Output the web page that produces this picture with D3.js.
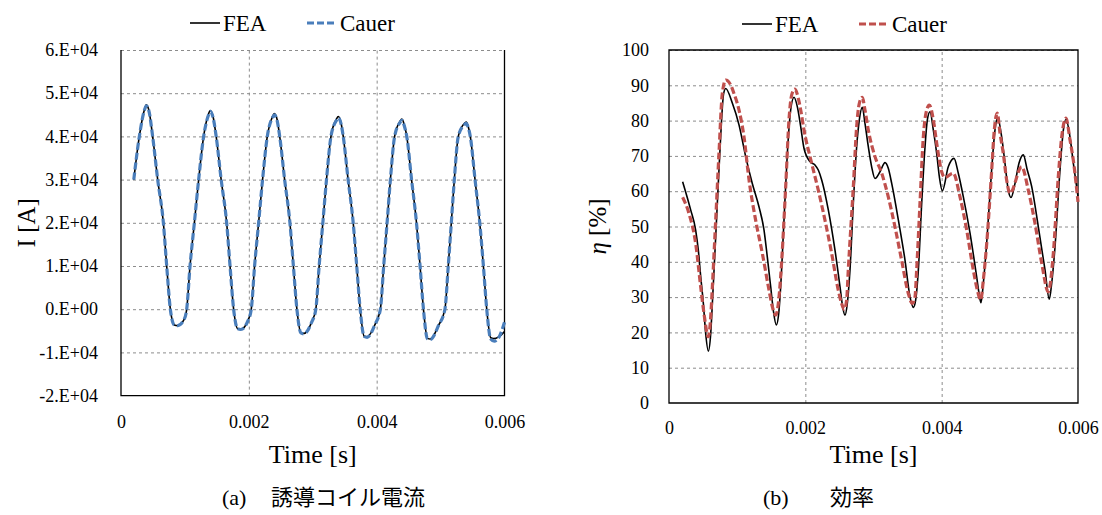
<!DOCTYPE html>
<html>
<head>
<meta charset="utf-8">
<script src="https://cdn.jsdelivr.net/npm/d3@7"></script>
<style>
  body { margin: 0; background: #fff; }
  svg { display: block; }
  svg text { font-family: "Liberation Serif", "Times New Roman", Times, serif; }
</style>
</head>
<body>
<svg id="chart" width="1102" height="515"></svg>
<script>
// ---- data: time [s], value ----
const timeTicks = [0, 0.002, 0.004, 0.006];
const timeTickLabels = ["0", "0.002", "0.004", "0.006"];

const currentTicks = [-20000, -10000, 0, 10000, 20000, 30000, 40000, 50000, 60000];
const currentTickLabels = ["-2.E+04", "-1.E+04", "0.E+00", "1.E+04", "2.E+04", "3.E+04", "4.E+04", "5.E+04", "6.E+04"];

const efficiencyTicks = [0, 10, 20, 30, 40, 50, 60, 70, 80, 90, 100];
const efficiencyTickLabels = ["0", "10", "20", "30", "40", "50", "60", "70", "80", "90", "100"];

const seriesNames = ["FEA", "Cauer"];

// induction coil current [A]
const currentFEA = [
  [0.000200,30000],[0.000287,40000],[0.000365,46100],[0.000396,47300],[0.000440,45800],[0.000495,40000],[0.000574,30000],[0.000663,20000],[0.000715,10000],[0.000772,0],[0.000834,-3650],[0.000887,-3800],[0.000990,-2300],
  [0.001028,0],[0.001080,10000],[0.001148,20000],[0.001215,30000],[0.001293,40000],[0.001365,45000],[0.001397,46000],[0.001440,44600],[0.001489,40000],[0.001567,30000],[0.001653,20000],[0.001706,10000],[0.001762,0],[0.001824,-4500],[0.001875,-4650],[0.001985,-2700],
  [0.002038,0],[0.002090,10000],[0.002153,20000],[0.002215,30000],[0.002289,40000],[0.002368,44500],[0.002400,45300],[0.002442,43900],[0.002483,40000],[0.002560,30000],[0.002643,20000],[0.002697,10000],[0.002752,0],[0.002814,-5450],[0.002864,-5600],[0.002980,-3100],
  [0.003048,0],[0.003100,10000],[0.003158,20000],[0.003215,30000],[0.003285,40000],[0.003370,44000],[0.003400,44600],[0.003443,43100],[0.003477,40000],[0.003553,30000],[0.003633,20000],[0.003688,10000],[0.003742,0],[0.003804,-6250],[0.003852,-6400],[0.003975,-3500],
  [0.004058,0],[0.004110,10000],[0.004163,20000],[0.004215,30000],[0.004281,40000],[0.004365,43500],[0.004395,44000],[0.004435,42500],[0.004471,40000],[0.004546,30000],[0.004623,20000],[0.004679,10000],[0.004732,0],[0.004794,-6750],[0.004840,-6900],[0.004970,-3700],
  [0.005068,0],[0.005120,10000],[0.005168,20000],[0.005215,30000],[0.005277,40000],[0.005370,43000],[0.005400,43300],[0.005430,42400],[0.005465,40000],[0.005539,30000],[0.005613,20000],[0.005670,10000],[0.005722,0],[0.005784,-6600],[0.005830,-6800],[0.005910,-6400],[0.006000,-5200]
];

const currentCauer = [
  [0.000200,30000],[0.000287,40000],[0.000365,46000],[0.000396,47100],[0.000440,45700],[0.000495,40000],[0.000574,30000],[0.000663,20000],[0.000715,10000],[0.000772,0],[0.000834,-3650],[0.000887,-3800],[0.000990,-2300],
  [0.001028,0],[0.001080,10000],[0.001148,20000],[0.001215,30000],[0.001293,40000],[0.001365,44800],[0.001397,45800],[0.001440,44400],[0.001489,40000],[0.001567,30000],[0.001653,20000],[0.001706,10000],[0.001762,0],[0.001824,-4500],[0.001875,-4700],[0.001985,-2700],
  [0.002038,0],[0.002090,10000],[0.002153,20000],[0.002215,30000],[0.002289,40000],[0.002368,44300],[0.002400,45000],[0.002442,43700],[0.002483,40000],[0.002560,30000],[0.002643,20000],[0.002697,10000],[0.002752,0],[0.002814,-5500],[0.002864,-5700],[0.002980,-3100],
  [0.003048,0],[0.003100,10000],[0.003158,20000],[0.003215,30000],[0.003285,40000],[0.003370,43700],[0.003400,44300],[0.003443,42900],[0.003477,40000],[0.003553,30000],[0.003633,20000],[0.003688,10000],[0.003742,0],[0.003804,-6300],[0.003852,-6500],[0.003975,-3500],
  [0.004058,0],[0.004110,10000],[0.004163,20000],[0.004215,30000],[0.004281,40000],[0.004365,43200],[0.004395,43700],[0.004435,42300],[0.004471,40000],[0.004546,30000],[0.004623,20000],[0.004679,10000],[0.004732,0],[0.004794,-6850],[0.004840,-7000],[0.004970,-3700],
  [0.005068,0],[0.005120,10000],[0.005168,20000],[0.005215,30000],[0.005277,40000],[0.005370,42700],[0.005400,43000],[0.005430,42200],[0.005465,40000],[0.005539,30000],[0.005613,20000],[0.005670,10000],[0.005722,0],[0.005784,-6900],[0.005840,-7400],[0.005920,-6300],[0.006000,-3000]
];

// efficiency [%]
const efficiencyFEA = [
  [0.000200,62.7],[0.000318,54.7],[0.000391,49.0],[0.000430,43.3],[0.000465,35.8],[0.000504,28.2],[0.000538,19.7],[0.000577,14.7],[0.000612,19.7],[0.000636,28.2],[0.000685,47.1],[0.000733,66.0],[0.000765,78.0],[0.000800,87.5],[0.000832,89.1],
  [0.000930,84.9],[0.001027,78.8],[0.001125,69.8],[0.001222,62.2],[0.001320,55.6],[0.001394,49.0],[0.001442,41.4],[0.001492,32.9],[0.001530,26.3],[0.001574,22.1],[0.001614,26.3],[0.001638,32.9],[0.001687,51.8],[0.001736,70.7],[0.001785,83.0],[0.001834,86.6],
  [0.001883,83.9],[0.001932,78.3],[0.001981,72.1],[0.002068,68.4],[0.002142,67.4],[0.002190,66.0],[0.002240,63.2],[0.002337,54.7],[0.002435,43.3],[0.002509,32.9],[0.002547,27.3],[0.002582,24.9],[0.002616,28.2],[0.002655,37.7],[0.002704,56.6],[0.002753,72.6],[0.002792,80.2],[0.002836,83.8],
  [0.002875,79.2],[0.002924,72.6],[0.002973,66.9],[0.003022,63.6],[0.003095,65.5],[0.003169,68.1],[0.003217,66.5],[0.003267,62.2],[0.003365,51.8],[0.003462,40.5],[0.003535,30.1],[0.003585,27.1],[0.003619,29.2],[0.003658,37.7],[0.003707,56.6],[0.003756,72.6],[0.003790,80.2],[0.003829,82.5],
  [0.003878,77.3],[0.003927,70.7],[0.003966,64.1],[0.004010,60.1],[0.004097,66.9],[0.004181,69.3],[0.004244,65.1],[0.004318,58.4],[0.004416,48.1],[0.004513,35.8],[0.004548,31.1],[0.004577,28.4],[0.004611,33.9],[0.004660,45.2],[0.004733,66.0],[0.004782,77.3],[0.004821,80.8],
  [0.004880,75.4],[0.004929,67.9],[0.004977,60.3],[0.005017,58.2],[0.005076,62.2],[0.005134,67.9],[0.005198,70.3],[0.005256,66.0],[0.005321,61.3],[0.005418,49.9],[0.005516,37.7],[0.005579,29.4],[0.005614,33.9],[0.005663,44.3],[0.005736,66.0],[0.005785,77.3],[0.005824,80.4],
  [0.005882,75.4],[0.005932,67.9],[0.006000,58.5]
];

const efficiencyCauer = [
  [0.000200,58.3],[0.000293,53.7],[0.000391,45.2],[0.000465,32.9],[0.000513,25.4],[0.000577,18.8],[0.000612,24.4],[0.000636,32.9],[0.000685,51.8],[0.000733,70.7],[0.000782,87.7],[0.000832,91.5],
  [0.000905,90.1],[0.000953,87.7],[0.001027,83.0],[0.001100,75.4],[0.001174,63.2],[0.001271,51.8],[0.001369,42.4],[0.001467,32.0],[0.001516,27.3],[0.001565,24.9],[0.001604,28.2],[0.001638,35.8],[0.001712,61.3],[0.001760,80.2],[0.001800,87.3],[0.001848,88.9],
  [0.001897,86.3],[0.001932,83.0],[0.001981,77.3],[0.002093,67.9],[0.002190,60.3],[0.002288,51.8],[0.002386,42.4],[0.002483,32.0],[0.002532,28.2],[0.002571,26.5],[0.002606,29.2],[0.002630,37.7],[0.002704,61.3],[0.002753,78.3],[0.002792,84.9],[0.002836,86.6],
  [0.002875,83.0],[0.002924,77.3],[0.003022,69.8],[0.003120,65.1],[0.003217,58.4],[0.003315,49.9],[0.003412,40.5],[0.003510,31.1],[0.003569,28.2],[0.003609,30.1],[0.003633,37.7],[0.003682,56.6],[0.003731,75.4],[0.003770,82.1],[0.003819,84.4],
  [0.003878,80.2],[0.003927,73.6],[0.004000,65.5],[0.004048,63.9],[0.004170,65.1],[0.004269,58.4],[0.004367,49.0],[0.004464,37.7],[0.004523,32.0],[0.004573,29.2],[0.004611,34.8],[0.004661,45.2],[0.004734,66.0],[0.004772,77.3],[0.004816,82.1],
  [0.004856,76.4],[0.004904,70.7],[0.004953,63.2],[0.005002,59.4],[0.005174,66.9],[0.005271,60.3],[0.005369,50.9],[0.005468,39.6],[0.005564,31.5],[0.005638,42.4],[0.005711,64.1],[0.005761,75.4],[0.005824,80.7],
  [0.005883,74.5],[0.005931,68.8],[0.006000,57.0]
];

// ---- drawing ----
const svg = d3.select("#chart");
const GRID = "#8c8c8c";
const SERIF = '"Liberation Serif", "Times New Roman", Times, serif';
const CJK = '"Liberation Serif", "Noto Sans CJK JP", serif';

function styleTicks(a) {
  a.attr("font-family", null).attr("font-size", null);
  a.select(".domain").remove();
  a.selectAll("text").style("font-family", SERIF).style("font-size", "18px").attr("fill", "#000");
}

function drawPanel(p) {
  const g = svg.append("g");
  const x = d3.scaleLinear().domain([0, 0.006]).range([p.left, p.right]);
  const y = d3.scaleLinear().domain(p.yDomain).range([p.bottom, p.top]);

  // horizontal grid lines
  g.append("g")
    .attr("transform", `translate(${p.left},0)`)
    .call(d3.axisLeft(y).tickValues(p.yTicks.slice(1)).tickSize(-(p.right - p.left)).tickFormat(""))
    .call(a => a.select(".domain").remove())
    .call(a => a.selectAll("line").attr("stroke", GRID).attr("stroke-width", 1).attr("stroke-dasharray", "3,3"));

  // vertical grid lines
  g.append("g")
    .attr("transform", `translate(0,${p.bottom})`)
    .call(d3.axisBottom(x).tickValues(timeTicks.slice(1, -1)).tickSize(-(p.bottom - p.top)).tickFormat(""))
    .call(a => a.select(".domain").remove())
    .call(a => a.selectAll("line").attr("stroke", GRID).attr("stroke-width", 1).attr("stroke-dasharray", "3,3"));

  // frame: left, bottom and right edges (top too when closed)
  const frame = p.closedTop
    ? `M${p.left},${p.top}V${p.bottom}H${p.right}V${p.top}Z`
    : `M${p.left},${p.top}V${p.bottom}H${p.right}V${p.top}`;
  g.append("path").attr("d", frame)
    .attr("fill", "none").attr("stroke", "#000").attr("stroke-width", 1.3);

  // y tick labels
  g.append("g")
    .attr("transform", `translate(${p.left},0)`)
    .call(d3.axisLeft(y).tickValues(p.yTicks).tickSize(0).tickPadding(p.yPad)
      .tickFormat((d, i) => p.yLabels[i]))
    .call(styleTicks);

  // x tick labels
  g.append("g")
    .attr("transform", `translate(0,${p.bottom})`)
    .call(d3.axisBottom(x).tickValues(timeTicks).tickSize(0).tickPadding(p.xPad)
      .tickFormat((d, i) => timeTickLabels[i]))
    .call(styleTicks);

  const line = d3.line().x(d => x(d[0])).y(d => y(d[1])).curve(d3.curveMonotoneX);

  g.append("path").datum(p.fea).attr("d", line)
    .attr("fill", "none").attr("stroke", "#000").attr("stroke-width", 1.6);
  g.append("path").datum(p.cauer).attr("d", line)
    .attr("fill", "none").attr("stroke", p.cauerColor).attr("stroke-width", 3.2)
    .attr("stroke-dasharray", "7,3");

  // axis titles
  g.append("text").attr("x", (p.left + p.right) / 2).attr("y", p.xTitleY)
    .attr("text-anchor", "middle").style("font-family", SERIF).style("font-size", "26px")
    .text("Time [s]");

  const yt = g.append("text")
    .attr("transform", `translate(${p.yTitleX},${(p.top + p.bottom) / 2}) rotate(-90)`)
    .attr("text-anchor", "middle").style("font-family", SERIF).style("font-size", "25px");
  if (p.yTitleItalic) {
    yt.append("tspan").style("font-style", "italic").text(p.yTitleItalic);
    yt.append("tspan").text(p.yTitleRest);
  } else {
    yt.text(p.yTitleRest);
  }

  // legend
  const lg = g.append("g");
  lg.append("line").attr("x1", p.legendX).attr("x2", p.legendX + 30)
    .attr("y1", p.legendY - 8).attr("y2", p.legendY - 8)
    .attr("stroke", "#000").attr("stroke-width", 1.6);
  lg.append("text").attr("x", p.legendX + 33).attr("y", p.legendY)
    .style("font-family", SERIF).style("font-size", "23px").text(seriesNames[0]);
  lg.append("line").attr("x1", p.legendX + 117).attr("x2", p.legendX + 146)
    .attr("y1", p.legendY - 8).attr("y2", p.legendY - 8)
    .attr("stroke", p.cauerColor).attr("stroke-width", 3.2).attr("stroke-dasharray", "7,3");
  lg.append("text").attr("x", p.legendX + 150).attr("y", p.legendY)
    .style("font-family", SERIF).style("font-size", "23px").text(seriesNames[1]);

  // caption
  const cap = g.append("text").attr("y", 505).style("font-family", CJK).style("font-size", "22px");
  cap.append("tspan").attr("x", p.captionX).text(p.captionTag);
  cap.append("tspan").attr("x", p.captionTextX).text(p.caption);
}

drawPanel({
  left: 121, right: 504.5, top: 50, bottom: 395.6, closedTop: false,
  yDomain: [-20000, 60000], yTicks: currentTicks, yLabels: currentTickLabels,
  yPad: 23, xPad: 20,
  fea: currentFEA, cauer: currentCauer, cauerColor: "#4a7ebb",
  xTitleY: 463, yTitleX: 35, yTitleRest: "I [A]",
  legendX: 190, legendY: 31,
  captionTag: "(a)", caption: "誘導コイル電流", captionX: 222, captionTextX: 271
});

drawPanel({
  left: 669, right: 1078, top: 50, bottom: 403, closedTop: true,
  yDomain: [0, 100], yTicks: efficiencyTicks, yLabels: efficiencyTickLabels,
  yPad: 20, xPad: 18,
  fea: efficiencyFEA, cauer: efficiencyCauer, cauerColor: "#c0504d",
  xTitleY: 463, yTitleX: 606, yTitleItalic: "η", yTitleRest: " [%]",
  legendX: 742, legendY: 32,
  captionTag: "(b)", caption: "効率", captionX: 763, captionTextX: 830
});
</script>
</body>
</html>
